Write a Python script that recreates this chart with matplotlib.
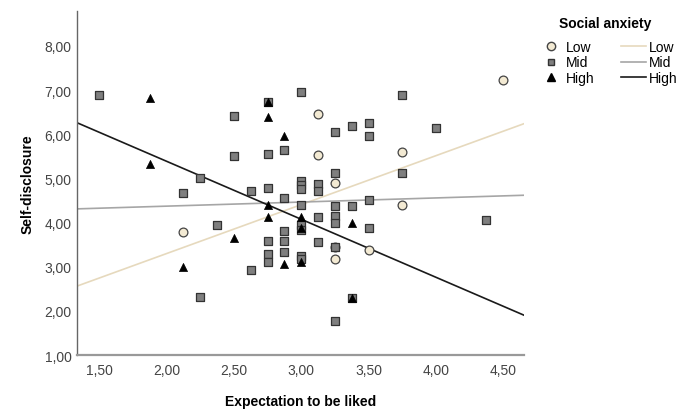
import matplotlib.pyplot as plt
from matplotlib.lines import Line2D

plt.rcParams['font.family'] = ['Liberation Sans', 'DejaVu Sans']

# Low social anxiety (circles)
low_x = [3.125, 3.125, 4.5, 3.75, 3.25, 3.75, 2.125, 3.25, 3.25, 3.5]
low_y = [6.45, 5.53, 7.23, 5.59, 4.89, 4.40, 3.78, 3.44, 3.18, 3.38]

# Mid social anxiety (squares)
mid_x = [1.5, 2.5, 2.5, 2.25, 2.125, 2.625, 2.75, 2.75, 2.75, 2.875, 2.875,
         3.0, 3.0, 3.0, 3.0, 3.125, 3.125, 3.25, 3.375, 3.5, 3.5, 3.75, 4.0,
         3.75, 3.25, 3.0, 3.25, 3.375, 3.5, 3.125, 3.25, 3.25, 3.0, 3.0, 3.5,
         2.875, 2.875, 2.75, 3.125, 3.25, 2.75, 2.75, 2.875, 3.0, 3.0, 2.625,
         3.375, 3.25, 2.375, 2.25, 4.375]
mid_y = [6.88, 6.42, 5.50, 5.00, 4.68, 4.71, 4.78, 5.55, 6.72, 5.65, 4.55,
         6.95, 4.95, 4.85, 4.75, 4.87, 4.72, 6.05, 6.19, 6.25, 5.95, 6.89, 6.13,
         5.12, 5.12, 4.40, 4.38, 4.38, 4.51, 4.12, 4.15, 4.00, 3.95, 3.83, 3.87,
         3.80, 3.59, 3.59, 3.55, 3.44, 3.28, 3.11, 3.34, 3.25, 3.17, 2.92,
         2.29, 1.76, 3.95, 2.31, 4.05]

# High social anxiety (triangles)
high_x = [1.875, 1.875, 2.75, 2.75, 2.875, 2.75, 2.75, 3.0, 3.375, 3.0,
          2.5, 2.125, 2.875, 3.0, 3.375]
high_y = [6.81, 5.33, 6.40, 6.72, 5.96, 4.40, 4.13, 4.13, 4.00, 3.88,
          3.65, 3.00, 3.05, 3.11, 2.29]

# fit lines (intercept, slope)
low_fit = (1.082, 1.108)
mid_fit = (4.185, 0.093)
high_fit = (8.012, -1.313)

x_ticks = [1.5, 2.0, 2.5, 3.0, 3.5, 4.0, 4.5]
y_ticks = [1, 2, 3, 4, 5, 6, 7, 8]

low_col = '#f3ead3'
low_line = '#e6d9bd'
mid_col = '#7f7f7f'
mid_line = '#a6a6a6'
high_col = '#000000'
high_line = '#1a1a1a'


def comma(v):
    return f'{v:.2f}'.replace('.', ',')


def main():
    fig = plt.figure(figsize=(6.9, 4.1), dpi=100)
    ax = fig.add_axes([0.1116, 0.1317, 0.6478, 0.839])

    for (b0, b1), col in [(low_fit, low_line), (mid_fit, mid_line), (high_fit, high_line)]:
        ax.axline((0, b0), slope=b1, color=col, lw=1.2, zorder=2)

    ax.scatter(low_x, low_y, marker='o', s=40, facecolor=low_col,
               edgecolor='#444444', linewidth=0.9, zorder=3)
    ax.scatter(mid_x, mid_y, marker='s', s=27, facecolor=mid_col,
               edgecolor='#333333', linewidth=0.9, zorder=4)
    ax.scatter(high_x, high_y, marker='^', s=34, facecolor=high_col,
               edgecolor=high_col, linewidth=0.5, zorder=5)

    ax.set_xlim(1.334, 4.654)
    ax.set_ylim(1.0, 8.79)
    ax.set_xticks(x_ticks)
    ax.set_xticklabels([comma(v) for v in x_ticks])
    ax.set_yticks(y_ticks)
    ax.set_yticklabels([comma(v) for v in y_ticks])
    ax.tick_params(length=0, labelsize=10, labelcolor='#444444')
    ax.tick_params(axis='x', pad=6)
    ax.tick_params(axis='y', pad=4)

    for s in ['top', 'right']:
        ax.spines[s].set_visible(False)
    ax.spines['left'].set_color('#666666')
    ax.spines['bottom'].set_color('#999999')
    ax.spines['left'].set_linewidth(1.0)
    ax.spines['bottom'].set_linewidth(1.6)

    ax.set_xlabel('Expectation to be liked', fontsize=10, fontweight='bold', labelpad=12)
    ax.set_ylabel('Self-disclosure', fontsize=10, fontweight='bold', labelpad=7)

    handles = [
        Line2D([], [], ls='none', marker='o', ms=6, mfc=low_col, mec='#444444'),
        Line2D([], [], ls='none', marker='s', ms=5, mfc=mid_col, mec='#333333'),
        Line2D([], [], ls='none', marker='^', ms=6, mfc=high_col, mec=high_col),
        Line2D([], [], color=low_line, lw=1.2),
        Line2D([], [], color=mid_line, lw=1.2),
        Line2D([], [], color=high_line, lw=1.2),
    ]
    labels = ['Low', 'Mid', 'High', 'Low', 'Mid', 'High']
    fig.legend(handles, labels, ncol=2, loc='upper left',
               bbox_to_anchor=(0.78, 0.9), frameon=False, borderpad=0,
               borderaxespad=0, fontsize=10, handlelength=1.8,
               handletextpad=0.2, columnspacing=1.9, labelspacing=0.1)
    fig.text(0.877, 0.941, 'Social anxiety', fontsize=10, fontweight='bold',
             ha='center', va='center')

    fig.savefig('out.png', dpi=100)


if __name__ == '__main__':
    main()
